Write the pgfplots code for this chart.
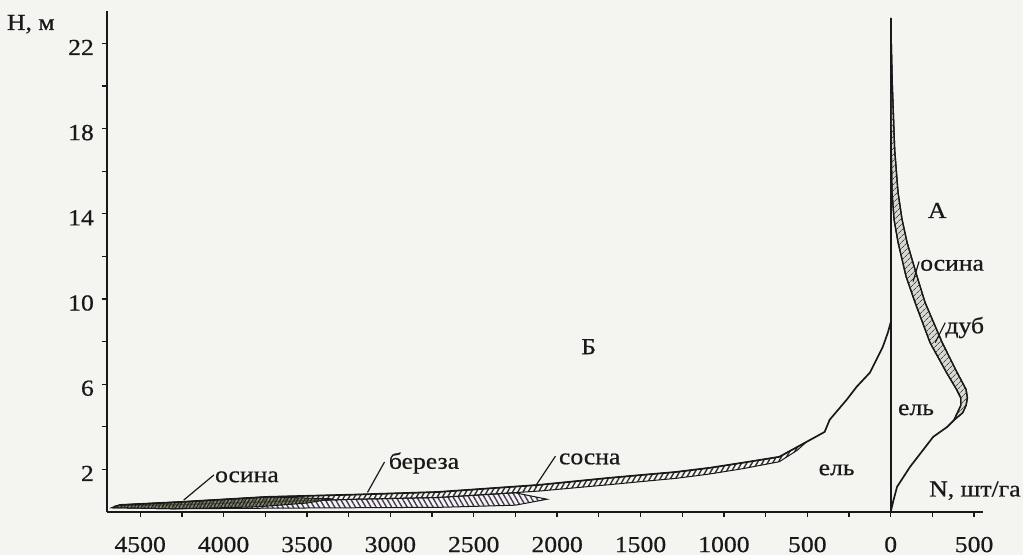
\documentclass[border=0pt]{standalone}
\usepackage{fontspec}
\setmainfont{Liberation Serif}[FakeStretch=1.12, FakeBold=0.6]
\usepackage{pgfplots}
\pgfplotsset{compat=1.18}
\usetikzlibrary{patterns,patterns.meta}
\definecolor{bg}{RGB}{244,244,240}
\definecolor{ink}{RGB}{25,25,25}
\definecolor{hatch}{RGB}{45,45,45}
\definecolor{osgreen}{RGB}{95,105,72}
\definecolor{purp}{RGB}{70,55,85}

\begin{document}
\fontsize{23}{27}\selectfont
\begin{tikzpicture}
\fill[bg] (-890.7bp,-43bp) rectangle ++(1023bp,555bp);
\path[use as bounding box] (-890.7bp,-43bp) rectangle ++(1023bp,555bp);
\begin{axis}[
  at={(0,0)}, anchor=origin,
  x=0.1668bp, y=21.3bp,
  xmin=-4701, xmax=556, ymin=0, ymax=23.5,
  axis x line=bottom, axis y line=left,
  axis line style={ink, line width=1.7bp, -},
  clip=false,
  tick align=outside, major tick length=5bp, minor tick length=5bp,
  tick style={ink, line width=1.3bp},
  xtick={-4500,-4000,-3500,-3000,-2500,-2000,-1500,-1000,-500,0,500},
  xticklabels={4500,4000,3500,3000,2500,2000,1500,1000,500,0,500},
  minor xtick={-4250,-3750,-3250,-2750,-2250,-1750,-1250,-750,-250,250},
  ytick={2,6,10,14,18,22}, minor ytick={4,8,12,16,20},
  /pgf/number format/assume math mode=true,
  ticklabel style={font=\fontsize{23}{27}\selectfont, text=ink},
  xticklabel style={yshift=-12bp},
  yticklabel style={yshift=-4bp, xshift=0bp},
]
% vertical zero line
\addplot[ink, line width=1.7bp] coordinates {(0,0) (0,23.2)};

% ---- part B (left) ----
% birch band (береза)
\addplot[draw=ink, line width=1bp, pattern={Lines[angle=120,distance=4.5pt,line width=1.4pt]}, pattern color=purp] coordinates {
(-2060,0.6) (-2250,0.9) (-2715,0.68) (-3200,0.6) (-3739,0.48) (-4263,0.34) (-4640,0.3)
(-4670,0.2) (-4300,0.15) (-3700,0.18) (-2700,0.22) (-2250,0.32)} -- cycle;
% pine band (сосна)
\addplot[draw=ink, line width=1bp, pattern={Lines[angle=60,distance=4.5pt,line width=1.4pt]}, pattern color=hatch] coordinates {
(-505,3.29) (-668,2.59) (-890,2.31) (-1089,2.07) (-1287,1.88) (-1492,1.74) (-1690,1.60) (-2113,1.27) (-2715,0.94) (-3200,0.82) (-3739,0.71) (-4263,0.47) (-4625,0.33)
(-4640,0.3) (-4263,0.34) (-3739,0.48) (-3200,0.6) (-2715,0.68) (-2113,0.98) (-1690,1.28) (-1492,1.43) (-1287,1.58) (-1089,1.78) (-890,2.03) (-668,2.36) (-560,2.9)} -- cycle;
% aspen band (осина)
\addplot[draw=none, fill=osgreen, fill opacity=0.75] coordinates {
(-3350,0.62) (-3739,0.71) (-4263,0.47) (-4625,0.33) (-4670,0.2) (-4300,0.15) (-3800,0.24) (-3500,0.42)} -- cycle;
\addplot[draw=ink, line width=1bp, pattern={Lines[angle=60,distance=3pt,line width=0.9pt]}, pattern color=ink] coordinates {
(-3350,0.62) (-3739,0.71) (-4263,0.47) (-4625,0.33) (-4670,0.2) (-4300,0.15) (-3800,0.24) (-3500,0.42)} -- cycle;
% spruce outer curve (ель)
\addplot[ink, line width=1.7bp] coordinates {
(0,8.9) (-17,8.42) (-47,7.76) (-125,6.54) (-204,5.88) (-264,5.27) (-366,4.33) (-396,3.76) (-505,3.29) (-668,2.59) (-890,2.31) (-1089,2.07) (-1287,1.88) (-1492,1.74) (-1690,1.60) (-2113,1.27) (-2715,0.94) (-3200,0.82) (-3739,0.71) (-4263,0.47) (-4625,0.33)};

% ---- part A (right) ----
\addplot[ink, line width=1.7bp] coordinates {
(0,0) (15,0.5) (38,1.18) (116,2.12) (195,2.92) (255,3.53) (340,4.0) (378,4.3)};
\addplot[draw=ink, line width=1.3bp, fill=osgreen!25, postaction={pattern={Lines[angle=45,distance=4pt,line width=0.8pt]}, pattern color=ink!80}] coordinates {
(378,4.3) (432,4.66) (452,5.0) (460,5.36) (452,5.75) (399,6.54) (309,7.95) (206,9.84) (158,11.06) (98,12.66) (68,13.74) (44,15) (24,17) (10,20) (0,23.2)
(1,20) (3,17) (8,15) (20,13.74) (44,12.66) (92,11.06) (146,9.84) (236,7.95) (335,6.54) (395,5.75) (420,5.36) (420,5.0) (400,4.66)} -- cycle;

% ---- labels ----
\node[text=ink] at (axis cs:-1811,7.76) {Б};
\node[text=ink] at (axis cs:279,14.16) {А};
\node[text=ink] at (axis cs:-324,1.98) {ель};
\node[text=ink] at (axis cs:152,4.8) {ель};
\node[text=ink, anchor=west, inner sep=0] at (axis cs:176,11.58) {осина};
\draw[ink, line width=1.2bp] (axis cs:134,10.82) -- (axis cs:170,11.76);
\node[text=ink, anchor=west, inner sep=0] at (axis cs:327,8.66) {дуб};
\draw[ink, line width=1.2bp] (axis cs:267,7.95) -- (axis cs:327,8.89);
\node[text=ink, anchor=west, inner sep=0] at (axis cs:-4052,1.65) {осина};
\draw[ink, line width=1.2bp] (axis cs:-4239,0.56) -- (axis cs:-4058,1.74);
\node[text=ink, anchor=west, inner sep=0] at (axis cs:-3010,2.3) {береза};
\draw[ink, line width=1.2bp] (axis cs:-3137,0.92) -- (axis cs:-3035,2.35);
\node[text=ink, anchor=west, inner sep=0] at (axis cs:-1990,2.49) {сосна};
\draw[ink, line width=1.2bp] (axis cs:-2131,1.2) -- (axis cs:-2010,2.62);
\node[text=ink, anchor=west, inner sep=0] at (axis cs:230,1.0) {N, шт/га};
\node[text=ink, anchor=west, inner sep=0] at (axis cs:-5300,22.9) {H, м};
\end{axis}
\end{tikzpicture}
\end{document}
